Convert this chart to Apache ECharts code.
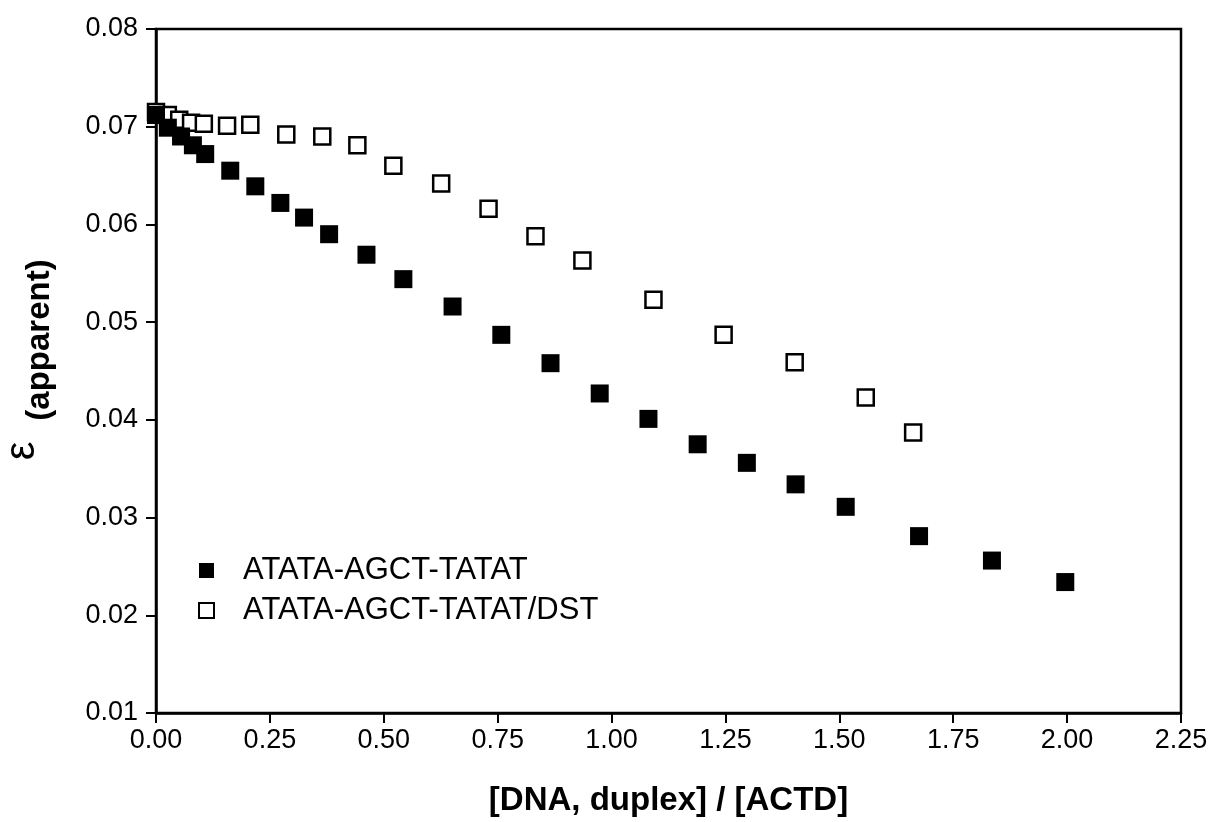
<!DOCTYPE html>
<html>
<head>
<meta charset="utf-8">
<script src="https://cdn.jsdelivr.net/npm/echarts@6/dist/echarts.min.js"></script>
<style>
html,body{margin:0;padding:0;background:#fff;}
#chart{width:1213px;height:822px;}
</style>
</head>
<body>
<div id="chart"></div>
<script>
// Series 1: ATATA-AGCT-TATAT (filled squares)
const xFilled = [0.000, 0.026, 0.055, 0.081, 0.108, 0.163, 0.218, 0.273, 0.325, 0.380, 0.462, 0.543, 0.651, 0.758, 0.866, 0.974, 1.081, 1.189, 1.297, 1.404, 1.514, 1.675, 1.835, 1.996];
const yFilled = [0.0712, 0.0699, 0.0690, 0.0681, 0.0672, 0.0655, 0.0639, 0.0622, 0.0607, 0.0590, 0.0569, 0.0544, 0.0516, 0.0487, 0.0458, 0.0427, 0.0401, 0.0375, 0.0356, 0.0334, 0.0311, 0.0281, 0.0256, 0.0234];
// Series 2: ATATA-AGCT-TATAT/DST (open squares)
const xOpen = [0.000, 0.026, 0.051, 0.077, 0.105, 0.156, 0.207, 0.286, 0.365, 0.442, 0.521, 0.626, 0.730, 0.833, 0.936, 1.092, 1.246, 1.402, 1.558, 1.662];
const yOpen = [0.0715, 0.0712, 0.0707, 0.0704, 0.0703, 0.0701, 0.0702, 0.0692, 0.0690, 0.0681, 0.0660, 0.0642, 0.0616, 0.0588, 0.0563, 0.0523, 0.0487, 0.0459, 0.0423, 0.0387];

const seriesNames = ['ATATA-AGCT-TATAT', 'ATATA-AGCT-TATAT/DST'];
const xTitle = '[DNA, duplex] / [ACTD]';
const yTitleSymbol = 'ε';
const yTitleText = '(apparent)';

const FONT = '"Liberation Sans", Arial, Helvetica, sans-serif';

const chart = echarts.init(document.getElementById('chart'), null, {renderer: 'canvas'});
const zip = (xs, ys) => xs.map((x, i) => [x, ys[i]]);

chart.setOption({
  backgroundColor: '#fff',
  animation: false,
  textStyle: {fontFamily: FONT, color: '#000'},
  grid: {left: 156, right: 32, top: 29, bottom: 104, show: true, borderColor: '#000', borderWidth: 2.5, backgroundColor: 'transparent'},
  legend: {
    data: seriesNames,
    orient: 'vertical',
    left: 193,
    top: 550,
    itemWidth: 15,
    itemHeight: 15,
    itemGap: 9,
    textStyle: {fontSize: 31, fontFamily: FONT, color: '#000', padding: [0, 0, 0, 24]},
    selectedMode: false
  },
  graphic: [
    {
      type: 'text',
      x: 40, y: 340,
      rotation: Math.PI / 2,
      silent: true,
      style: {text: yTitleText, fontSize: 33, fontWeight: 'bold', fontFamily: FONT, fill: '#000', align: 'center', verticalAlign: 'middle'}
    },
    {
      type: 'text',
      x: 22, y: 451,
      rotation: Math.PI / 2,
      silent: true,
      style: {text: yTitleSymbol, fontSize: 42, fontWeight: 'normal', fontFamily: FONT, fill: '#000', align: 'center', verticalAlign: 'middle'}
    }
  ],
  xAxis: {
    type: 'value',
    min: 0, max: 2.25, interval: 0.25,
    name: xTitle,
    nameLocation: 'middle',
    nameGap: 71,
    nameTextStyle: {fontSize: 33, fontWeight: 'bold', fontFamily: FONT, color: '#000'},
    splitLine: {show: false},
    axisLine: {show: true, onZero: false, lineStyle: {color: '#000', width: 2.5}},
    axisTick: {show: true, inside: false, length: 10, lineStyle: {color: '#000', width: 2}},
    axisLabel: {fontSize: 27, color: '#000', fontFamily: FONT, margin: 14, formatter: v => v.toFixed(2)}
  },
  yAxis: {
    type: 'value',
    min: 0.01, max: 0.08, interval: 0.01,
    splitLine: {show: false},
    axisLine: {show: true, onZero: false, lineStyle: {color: '#000', width: 2.5}},
    axisTick: {show: true, inside: false, length: 10, lineStyle: {color: '#000', width: 2}},
    axisLabel: {fontSize: 27, color: '#000', fontFamily: FONT, margin: 18, formatter: v => v.toFixed(2)}
  },
  series: [
    {
      name: seriesNames[0],
      type: 'scatter',
      z: 3,
      symbol: 'rect',
      symbolSize: 18,
      itemStyle: {color: '#000', opacity: 1},
      data: zip(xFilled, yFilled)
    },
    {
      name: seriesNames[1],
      type: 'scatter',
      z: 2,
      symbol: 'rect',
      symbolSize: 16,
      itemStyle: {color: '#fff', borderColor: '#000', borderWidth: 2.5, opacity: 1},
      data: zip(xOpen, yOpen)
    }
  ]
});
</script>
</body>
</html>
